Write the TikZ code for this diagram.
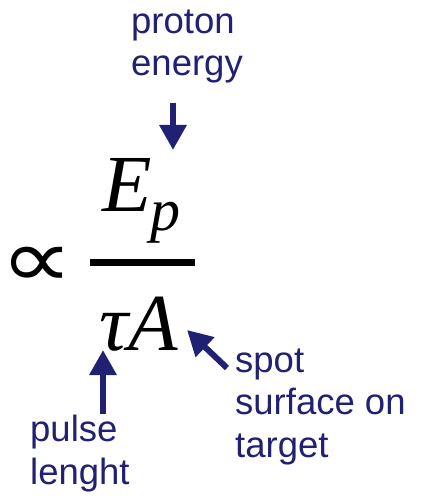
\documentclass[tikz,border=0pt]{standalone}
\usepackage{fontspec}
\setmainfont{Liberation Serif}
\newfontfamily\lblfont{Liberation Sans}
\newfontfamily\symfont{DejaVu Sans}
\usetikzlibrary{arrows.meta}
\definecolor{navy}{RGB}{33,33,115}

\begin{document}
\begin{tikzpicture}[x=1pt, y=-1pt,
  lbl/.style={font=\lblfont\fontsize{36.5}{42.5}\selectfont, text=navy,
    align=left, inner sep=0pt, anchor=base west},
  sym/.style={font=\fontsize{81}{81}\selectfont\itshape, inner sep=0pt,
    anchor=base west},
  arr/.style={-{Triangle[length=25pt, width=26pt]}, line width=6pt, draw=navy}
]
\useasboundingbox (0,0) rectangle (424,502);
% labels (anchored at the baseline of the last line)
\node[lbl] (proton) at (131,76) {proton\\energy};
\node[lbl] (pulse) at (30,484) {pulse\\lenght};
\node[lbl] (spot) at (235,457) {spot\\surface on\\target};
% the ratio
\node[sym] (num) at (102,212) {E\kern-1pt\raisebox{-18pt}{\fontsize{60}{60}\selectfont p}};
\node[sym] (den) at (99,350) {τA};
\node[font=\symfont\fontsize{72}{72}\selectfont, inner sep=0pt] (prop) at (37,267)
  {\scalebox{1.42}[1.15]{∝}};
\coordinate (barL) at (90,262);
\coordinate (barR) at (195,262);
\draw[line width=7pt] (barL) -- (barR);
% arrows
\coordinate (eTip) at (173,150);
\coordinate (pTip) at (103,350);
\coordinate (sTail) at (227,368);
\coordinate (sTip) at (187,330);
\draw[arr, shorten <=19pt] (proton.south -| eTip) -- (eTip);
\draw[arr, shorten <=1pt] (pulse.north -| pTip) -- (pTip);
\draw[arr] (sTail) -- (sTip);
\end{tikzpicture}
\end{document}
